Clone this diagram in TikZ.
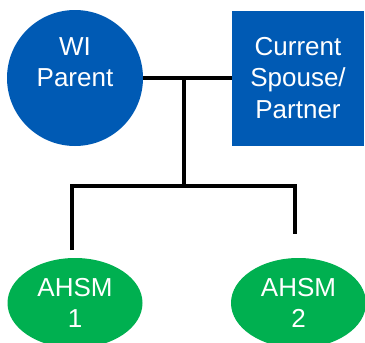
\documentclass[tikz,border=0pt]{standalone}
\usepackage{fontspec}
\setmainfont{Liberation Sans}
\usetikzlibrary{shapes.geometric}
\definecolor{famblue}{RGB}{0,90,180}
\definecolor{famgreen}{RGB}{0,176,80}
\tikzset{person/.style = {text = white, align = center, inner sep = 0,
                          font = \fontsize{26}{31.5}\selectfont}}
\tikzset{roundperson/.style = {person, fill = famblue, circle, minimum size = 136}}
\tikzset{squareperson/.style = {person, fill = famblue, rectangle,
                                minimum width = 132, minimum height = 135}}
\tikzset{childperson/.style = {person, fill = famgreen, ellipse,
                               minimum width = 135, minimum height = 90}}
\tikzset{famline/.style = {line width = 4}}

\begin{document}
\begin{tikzpicture}[x = 1pt, y = -1pt]
  \useasboundingbox (0, 0) rectangle (365, 343);
  \node [roundperson] (parent) at (75, 78) {WI\\Parent\\\mbox{}};
  \node [squareperson] (spouse) at (298, 78) {Current\\Spouse/\\Partner};
  \node [childperson] (child1) at (75, 303) {AHSM\\1};
  \node [childperson] (child2) at (298.5, 303) {AHSM\\2};
  \coordinate (couple) at (184, 78);
  \coordinate (fork) at (184, 186);
  \coordinate (leg1) at (72, 250);
  \coordinate (leg2) at (295, 234);
  \draw [famline] (parent) -- (spouse);
  \draw [famline] (couple) -- (fork);
  \draw [famline] (leg1) |- (fork) -| (leg2);
\end{tikzpicture}
\end{document}
